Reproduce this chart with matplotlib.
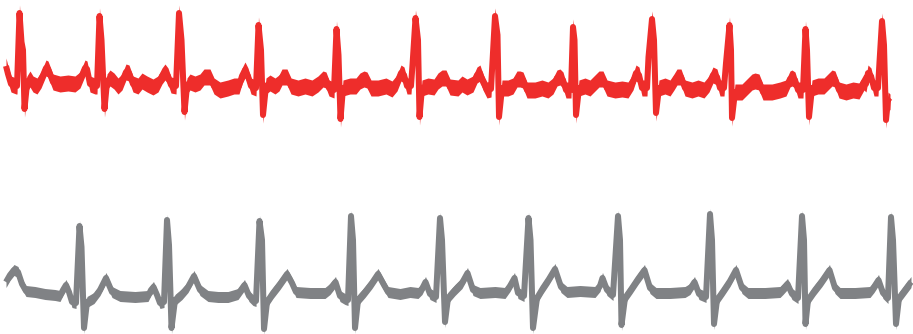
import matplotlib
matplotlib.use("Agg")
import matplotlib.pyplot as plt
import numpy as np

# ---- Data (time in sample units, amplitude in arbitrary units) ----
red_t = [6, 8, 11, 16, 17, 19.5, 21.5, 23, 24.5, 27, 30, 33, 37, 41, 46, 48, 53, 60, 68, 75,
         80, 85, 87, 90, 95, 97, 99.5, 101.5, 104.5, 107, 110, 114, 118, 122, 126, 129, 133, 138, 142, 147,
         153, 158, 162, 165, 168, 171, 176, 179, 181.5, 184.5, 187, 190, 195, 200, 204, 210, 214, 220, 228, 234,
         239, 242, 245, 248, 251, 256, 258.5, 261, 263, 266, 270, 275, 279, 282, 287, 291, 298, 305, 312, 318,
         323, 326, 329, 334, 336.5, 338.5, 340.5, 343, 350, 356, 360, 364, 367, 371, 378, 386, 392, 397, 401, 404,
         407, 411, 412.5, 415.5, 418, 419.5, 422, 428, 434, 438, 442, 446, 450, 458, 462, 467, 473, 477, 480, 483,
         487, 491, 495, 497.5, 499, 502, 508, 513, 517, 520, 523, 527, 535, 542, 548, 553, 557, 560, 563, 566,
         571, 573, 574.5, 576, 579, 585, 590, 595, 599, 603, 607, 615, 622, 628, 633, 636, 639, 642, 647, 648.5,
         652, 654, 656, 659, 665, 670, 674, 677, 681, 685, 692, 698, 704, 709, 713, 717, 720, 724, 726, 729.5,
         731, 732, 735, 742, 748, 752, 755, 759, 763, 772, 780, 786, 790, 792, 795, 798, 803, 805.5, 807, 809,
         812, 818, 824, 828, 832, 835, 839, 846, 853, 859, 864, 866, 868, 871, 874, 878, 879.5, 882, 884, 886,
         888, 890]
red_v = [22, 14, 4, 2, 2, 75, 46, 38, -21, 4, 9, 4, 2, 8, 20, 19, 6, 4, 5, 4,
         8, 20, 19, 4, 2, 2, 72, 48, -21, 6, 10, 7, 2, 6, 16, 15, 4, 2, 7, 4,
         1, 4, 12, 16, 12, 3, 2, 75, 48, -24, 2, 6, 4, 6, 11, 11, 2, -2, 0, 2,
         2, 12, 18, 12, 2, 0, 63, 38, -27, 2, 5, 2, 5, 11, 11, 2, 0, 2, 0, 4,
         9, 8, 0, -2, 59, 33, -31, 0, 2, 2, 7, 9, 8, 0, 0, 2, -1, 5, 15, 13,
         2, 2, 23, 70, 48, -29, 0, 2, 1, 7, 10, 10, 1, 0, 4, 1, 4, 13, 15, 6,
         -2, -1, 72, 53, -29, 0, 0, 2, 9, 9, 8, -2, -2, 0, -2, 2, 10, 11, 8, -2,
         -2, 61, 48, -27, 0, 2, 0, 5, 9, 9, 0, -2, -1, -2, 6, 15, 13, 0, 0, 31,
         69, 48, -25, 0, 2, 0, 6, 11, 11, 0, -2, 0, -2, 4, 13, 11, 0, 0, 25, 63,
         38, -30, -4, -4, 2, 6, 7, 6, -4, -4, -2, 0, 9, 10, 8, -2, -2, 59, 38, -29,
         0, 2, 2, 6, 10, 9, -2, -4, -2, -3, 6, 4, 15, 12, 0, 0, 26, 67, 43, -32,
         -12, -14]

gray_t = [6, 10, 14, 18, 22, 26, 35, 45, 55, 60, 63, 66, 69, 72, 76, 79.5, 81.5, 84, 87, 94,
          100, 106, 112, 120, 135, 148, 151, 153.5, 157, 160, 164, 167, 169, 171.5, 175, 182, 188, 194, 200, 208,
          218, 228, 238, 244.5, 249, 253, 256, 259.5, 262, 264, 267, 273, 280, 287, 292, 296, 310, 325, 330, 335.5,
          340, 345, 348, 351, 353, 355, 358, 365, 372, 378, 384, 388, 400, 410, 418, 422, 425.5, 430, 436, 440,
          442, 445, 448, 455, 462, 467.5, 473, 480, 495, 505, 510, 514.5, 518, 524, 528.5, 530.5, 533, 537, 543, 549,
          555, 561, 567, 580, 595, 600, 602.5, 607, 613, 618, 620, 621.5, 625, 632, 638, 644.5, 650, 656, 670, 685,
          690, 694.5, 699, 706, 710, 712, 714, 717, 724, 730, 736, 742, 748, 765, 780, 783, 787.5, 792, 798, 802,
          804, 805.5, 808, 815, 822, 829.5, 835, 840, 855, 870, 874, 878.5, 883, 888, 891, 893, 896, 899, 905, 911]
gray_v = [11, 18, 23, 21, 9, 2, 1, -1, -2, -3, 3, 8, 1, -9, -10, 67, 46, -35, -9, -5,
          3, 15, 1, -3, -4, -3, 3, 6, -2, -10, -9, 73, 48, -35, -7, -1, 6, 17, 3, -3,
          -4, -4, -1, 8, -3, -7, -8, 72, 53, -36, -9, 0, 9, 19, 10, 1, 0, 0, 4, 11,
          -3, -6, -7, 77, 53, -35, -7, 1, 10, 19, 8, 1, -1, 1, 0, 4, 11, -1, -4, 75,
          53, -29, -5, 3, 10, 20, 3, 0, 1, 0, 7, 15, 0, -3, 75, 53, -35, -5, 5, 14,
          24, 6, 1, 2, 1, 7, 15, 3, -2, 77, 53, -32, -5, 5, 14, 23, 5, 0, 0, 1,
          4, 11, -1, -4, 79, 53, -31, -7, 3, 12, 23, 5, 0, 0, 1, 4, 9, -1, -5, 77,
          53, -31, -7, 3, 12, 23, 5, 0, 0, 1, 6, 13, 0, -5, 76, 53, -31, -5, 3, 11]

RED = "#EE2D2B"
GRAY = "#808285"

W, H, DPI = 913, 334, 100
fig = plt.figure(figsize=(W / DPI, H / DPI), dpi=DPI)
fig.patch.set_facecolor("white")

lw_pt = 6 * 72 / DPI  # ~6 px stroke (horizontal thickness of the spikes)

# top trace (red) occupies the upper band of the figure
ax1 = fig.add_axes([0, 1 - 140 / H, 1, 140 / H])
ax1.set_xlim(0, W)
ax1.set_ylim(-52, 88)
rt = np.array(red_t)
rv = np.array(red_v)
ax1.fill_between(rt, rv - 8, rv + 8, color=RED, lw=0)
ax1.plot(rt, rv, color=RED, lw=lw_pt, solid_joinstyle="round", solid_capstyle="butt")
ax1.axis("off")

# bottom trace (gray)
ax2 = fig.add_axes([0, 0, 1, 144 / H])
ax2.set_xlim(0, W)
ax2.set_ylim(-41, 103)
gt = np.array(gray_t)
gv = np.array(gray_v)
ax2.fill_between(gt, gv - 5.5, gv + 5.5, color=GRAY, lw=0)
ax2.plot(gt, gv, color=GRAY, lw=lw_pt, solid_joinstyle="round", solid_capstyle="butt")
ax2.axis("off")

fig.savefig("out.png", dpi=DPI, facecolor="white")
